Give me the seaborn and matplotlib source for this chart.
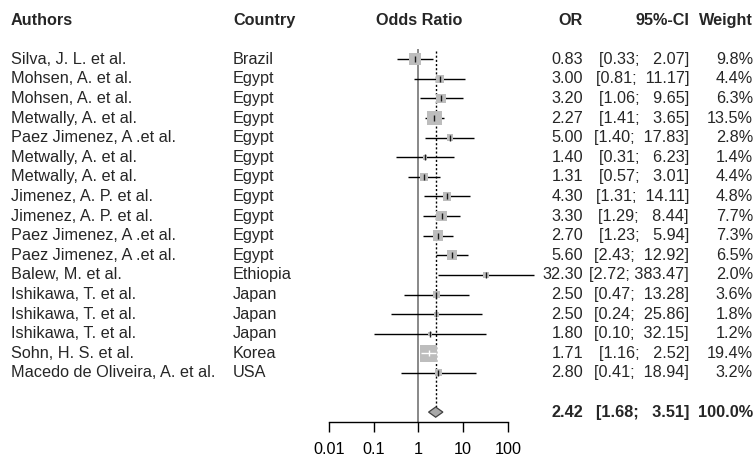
import numpy as np
import pandas as pd
import matplotlib
matplotlib.use("Agg")
import matplotlib.pyplot as plt
import matplotlib.transforms as mtransforms
import seaborn as sns

# study data
authors = ["Silva, J. L. et al.", "Mohsen, A. et al.", "Mohsen, A. et al.",
           "Metwally, A. et al.", "Paez Jimenez, A .et al.", "Metwally, A. et al.",
           "Metwally, A. et al.", "Jimenez, A. P. et al.", "Jimenez, A. P. et al.",
           "Paez Jimenez, A .et al.", "Paez Jimenez, A .et al.", "Balew, M. et al.",
           "Ishikawa, T. et al.", "Ishikawa, T. et al.", "Ishikawa, T. et al.",
           "Sohn, H. S. et al.", "Macedo de Oliveira, A. et al."]
countries = ["Brazil"] + ["Egypt"] * 10 + ["Ethiopia"] + ["Japan"] * 3 + ["Korea", "USA"]
or_vals = [0.83, 3.00, 3.20, 2.27, 5.00, 1.40, 1.31, 4.30, 3.30, 2.70, 5.60,
           32.30, 2.50, 2.50, 1.80, 1.71, 2.80]
ci_lo = [0.33, 0.81, 1.06, 1.41, 1.40, 0.31, 0.57, 1.31, 1.29, 1.23, 2.43,
         2.72, 0.47, 0.24, 0.10, 1.16, 0.41]
ci_hi = [2.07, 11.17, 9.65, 3.65, 17.83, 6.23, 3.01, 14.11, 8.44, 5.94, 12.92,
         383.47, 13.28, 25.86, 32.15, 2.52, 18.94]
weights = [9.8, 4.4, 6.3, 13.5, 2.8, 1.4, 4.4, 4.8, 7.7, 7.3, 6.5, 2.0, 3.6,
           1.8, 1.2, 19.4, 3.2]
pooled_or, pooled_lo, pooled_hi = 2.42, 1.68, 3.51
pooled_weight = 100.0
tick_vals = [0.01, 0.1, 1, 10, 100]
tick_labels = ["0.01", "0.1", "1", "10", "100"]

df = pd.DataFrame({"Authors": authors, "Country": countries, "OR": or_vals,
                   "lo": ci_lo, "hi": ci_hi, "Weight": weights})
df["row"] = np.arange(len(df))
pool_row = len(df) + 1

sns.set_theme(style="white")
plt.rcParams["font.family"] = ["Liberation Sans", "DejaVu Sans"]
FS = 11.7

W, H, DPI = 756, 459, 100
fig = plt.figure(figsize=(W / DPI, H / DPI), dpi=DPI)

# forest panel, placed in pixel terms
row0_px, row_step = 59.3, 19.6
y_top, y_bot = -0.55, pool_row + 0.5
x_left_px, x_right_px = 306.6, 552.75
top_px = row0_px + row_step * y_top
bot_px = row0_px + row_step * y_bot
ax = fig.add_axes([x_left_px / W, 1 - bot_px / H,
                   (x_right_px - x_left_px) / W, (bot_px - top_px) / H])
ax.set_xscale("log")
ax.set_xlim(10 ** -2.5, 10 ** 3)
ax.set_ylim(y_bot, y_top)
ax.patch.set_alpha(0)

# reference lines
ax.vlines(1, y_top, y_bot, color="#7f7f7f", lw=1.3, zorder=1)
ax.vlines(pooled_or, -0.4, pool_row - 0.27, color="black", lw=1,
          linestyles=(0, (1.5, 1.5)), zorder=1)

# confidence intervals
ax.hlines(df["row"], df["lo"], df["hi"], color="black", lw=1, zorder=2)

# squares sized by weight
size_k = 7.7
sns.scatterplot(data=df, x="OR", y="row", size="Weight", sizes=(0, size_k * 20),
                size_norm=(0, 20), marker="s", color="#bdbdbd", linewidth=0,
                legend=False, ax=ax, zorder=3)
ax.set_xlabel("")
ax.set_ylabel("")

# point estimate ticks; white line when CI sits inside the square
for _, r in df.iterrows():
    side = np.sqrt(size_k * r["Weight"]) * DPI / 72
    pts = ax.transData.transform([[r["lo"], r["row"]], [r["hi"], r["row"]],
                                  [r["OR"], r["row"]]])
    inside = pts[0, 0] >= pts[2, 0] - side / 2 and pts[1, 0] <= pts[2, 0] + side / 2
    col = "white" if inside else "#1a1a1a"
    if inside:
        ax.hlines(r["row"], r["lo"], r["hi"], color="white", lw=1, zorder=4)
    ax.plot(r["OR"], r["row"], marker="|", ms=4.5, mew=1, color=col, zorder=5)

# pooled diamond
ax.fill([pooled_lo, pooled_or, pooled_hi, pooled_or],
        [pool_row, pool_row - 0.26, pool_row, pool_row + 0.26],
        facecolor="#a8a8a8", edgecolor="#404040", lw=0.9, zorder=3)

# axis
for s in ["top", "left", "right"]:
    ax.spines[s].set_visible(False)
ax.spines["bottom"].set_bounds(tick_vals[0], tick_vals[-1])
ax.spines["bottom"].set_color("black")
ax.spines["bottom"].set_linewidth(1)
ax.set_xticks(tick_vals)
ax.set_xticklabels(tick_labels)
ax.xaxis.set_minor_locator(matplotlib.ticker.NullLocator())
ax.tick_params(axis="x", direction="out", length=7.5, width=1, pad=7,
               labelsize=FS, colors="black", bottom=True)
ax.set_yticks([])
ax.grid(False)

# table columns
tr = mtransforms.blended_transform_factory(fig.transFigure, ax.transData)
head_row = -2


def put(xpx, row, s, ha="left", bold=False):
    ax.text(xpx / W, row, s, transform=tr, ha=ha, va="center", fontsize=FS,
            fontweight="bold" if bold else "normal", clip_on=False)


put(11, head_row, "Authors", bold=True)
put(233, head_row, "Country", bold=True)
put(419, head_row, "Odds Ratio", ha="center", bold=True)
put(583, head_row, "OR", ha="right", bold=True)
put(689, head_row, "95%-CI", ha="right", bold=True)
put(753, head_row, "Weight", ha="right", bold=True)

for _, r in df.iterrows():
    put(11, r["row"], r["Authors"])
    put(233, r["row"], r["Country"])
    put(583, r["row"], f"{r['OR']:.2f}", ha="right")
    put(689, r["row"], f"[{r['lo']:.2f}; {r['hi']:>6.2f}]", ha="right")
    put(753, r["row"], f"{r['Weight']:.1f}%", ha="right")

put(583, pool_row, f"{pooled_or:.2f}", ha="right", bold=True)
put(689, pool_row, f"[{pooled_lo:.2f}; {pooled_hi:>6.2f}]", ha="right", bold=True)
put(753, pool_row, f"{pooled_weight:.1f}%", ha="right", bold=True)

fig.savefig("out.png", dpi=DPI)
